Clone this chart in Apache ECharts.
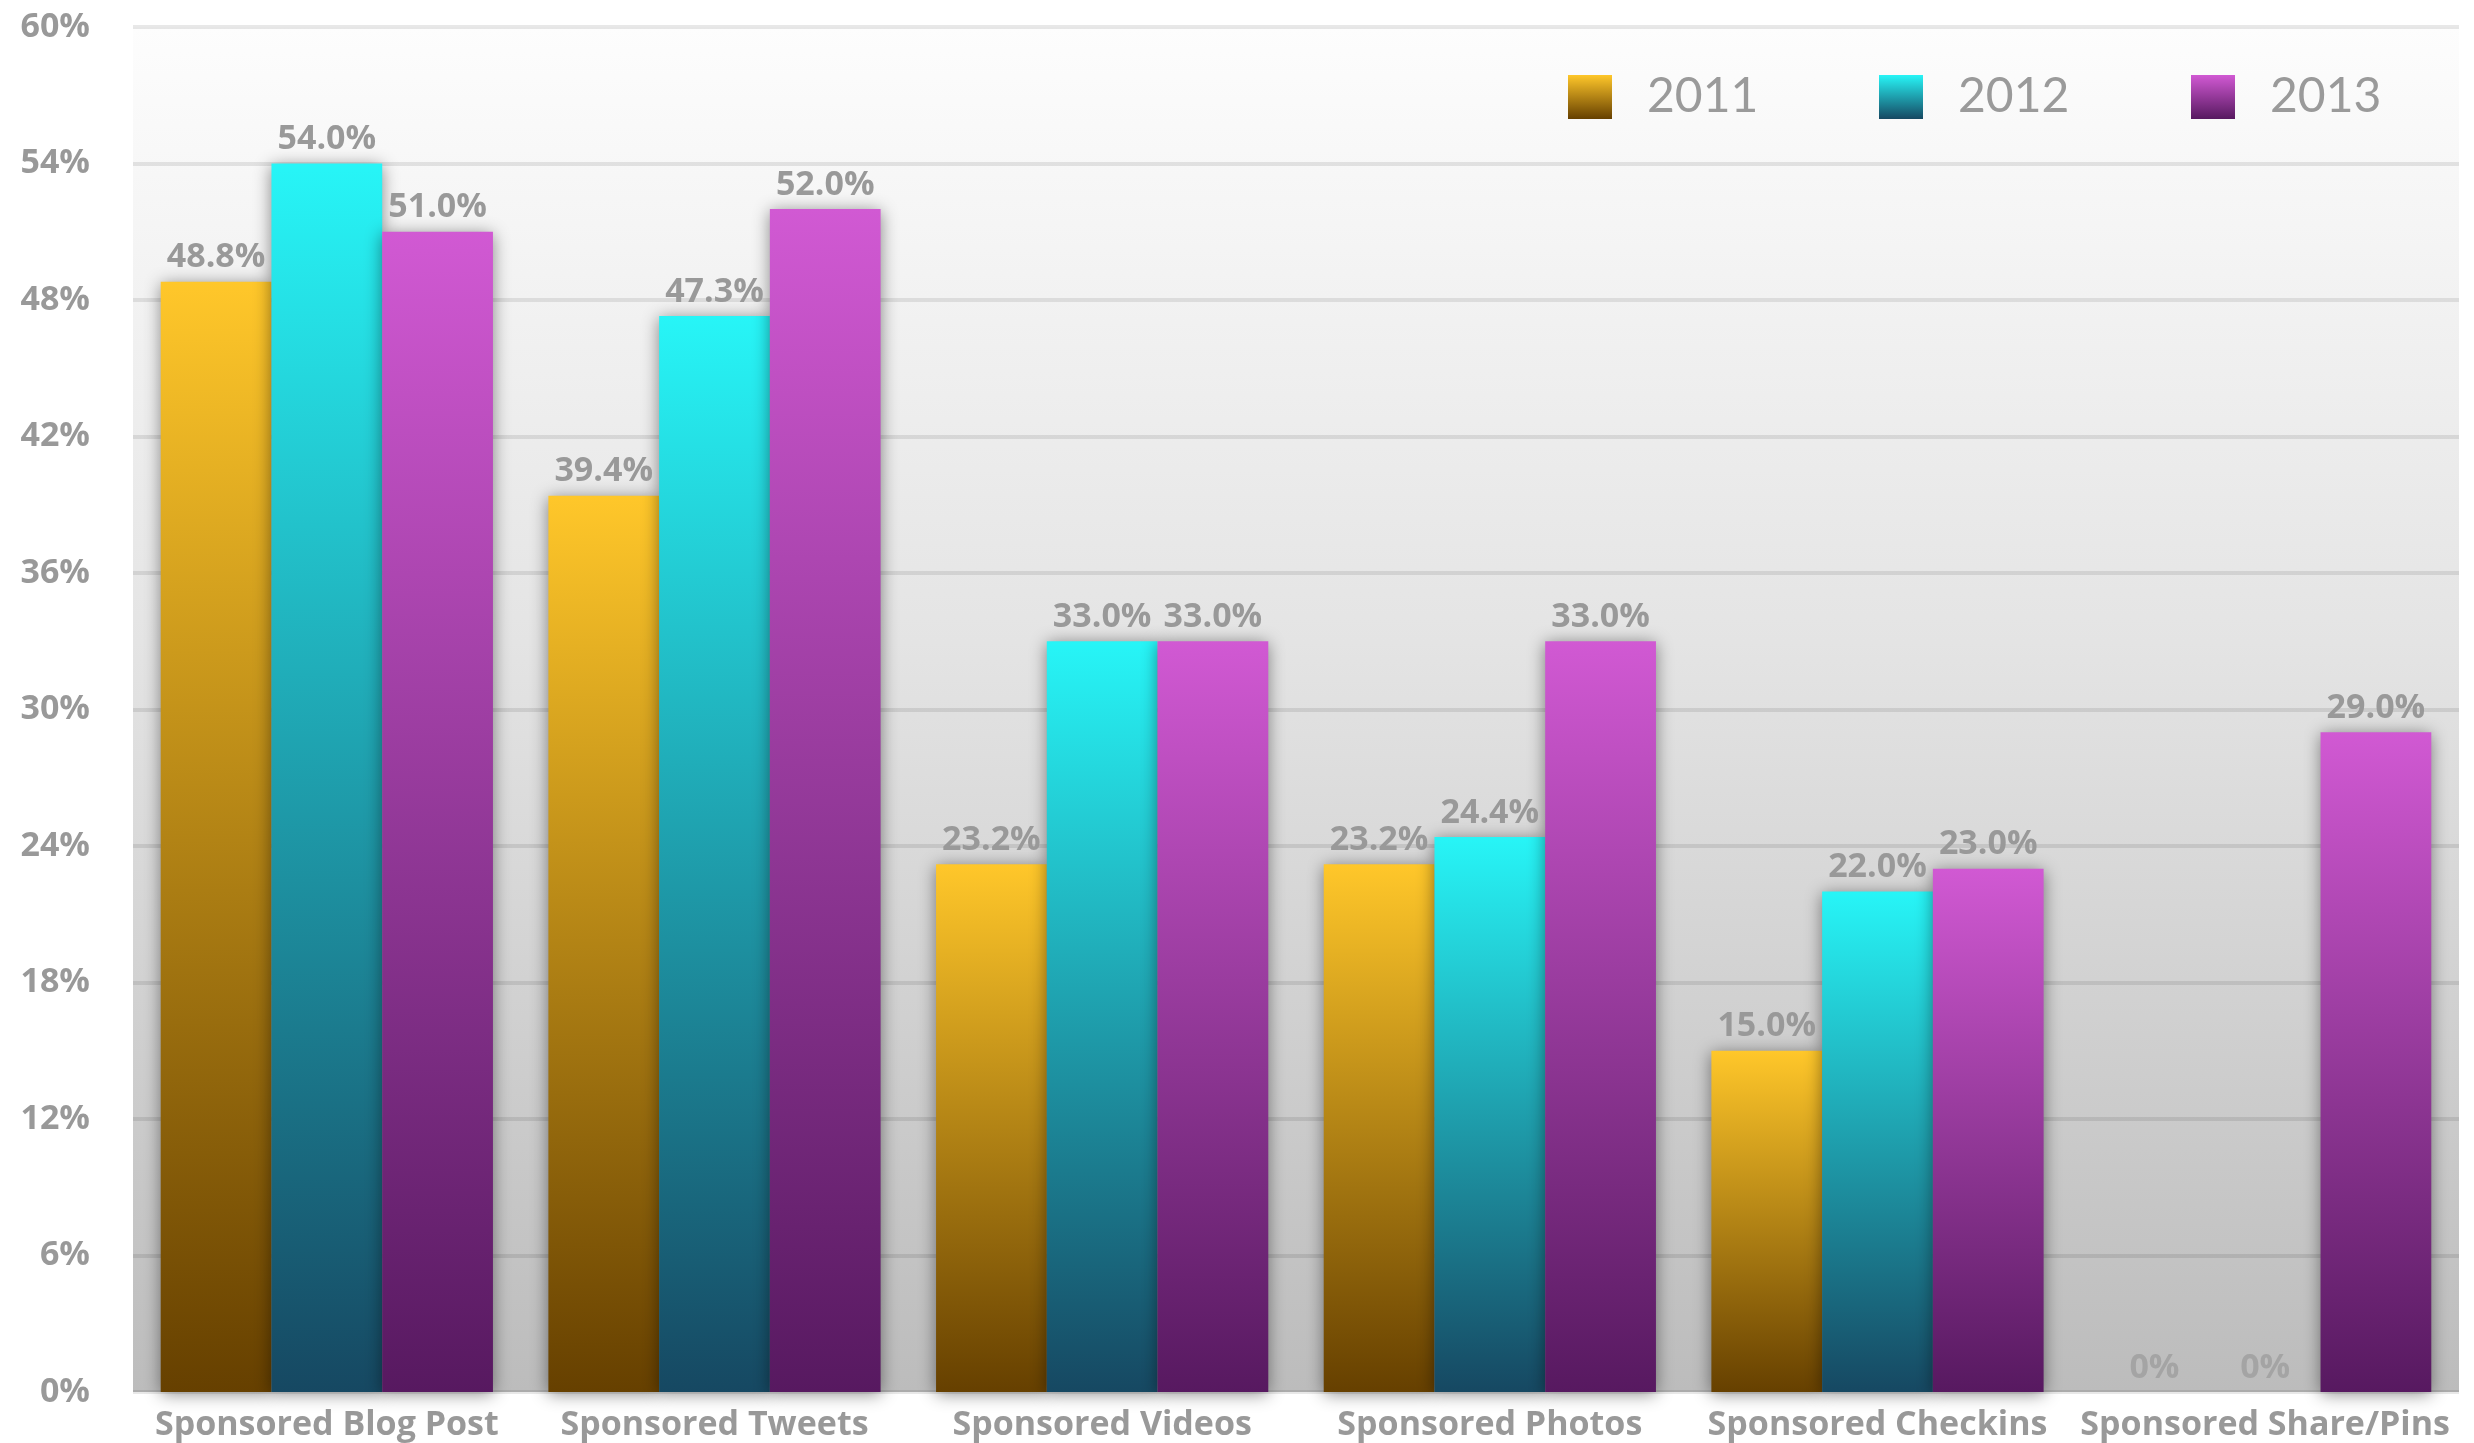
<!DOCTYPE html>
<html>
<head>
<meta charset="utf-8">
<script src="https://cdn.jsdelivr.net/npm/echarts@6/dist/echarts.min.js"></script>
<style>
html,body{margin:0;padding:0;background:#fff;}
#chart{width:2474px;height:1443px;}
</style>
</head>
<body>
<div id="chart"></div>
<script>
const categories = ['Sponsored Blog Post','Sponsored Tweets','Sponsored Videos','Sponsored Photos','Sponsored Checkins','Sponsored Share/Pins'];
const seriesNames = ['2011','2012','2013'];
const values2011 = [48.8, 39.4, 23.2, 23.2, 15.0, 0];
const values2012 = [54.0, 47.3, 33.0, 24.4, 22.0, 0];
const values2013 = [51.0, 52.0, 33.0, 33.0, 23.0, 29.0];
const yMin = 0, yMax = 60, yStep = 6;

const allValues = [values2011, values2012, values2013];
const gradients = [
  ['#ffc72a', '#664000'],
  ['#27f5f7', '#164862'],
  ['#d159d3', '#571960']
];
const legendLefts = [1568, 1879, 2191];
const boldFont = "'Open Sans', 'Noto Sans', sans-serif";

function grad(c) {
  return new echarts.graphic.LinearGradient(0, 0, 0, 1, [
    {offset: 0, color: c[0]}, {offset: 1, color: c[1]}
  ]);
}

const chart = echarts.init(document.getElementById('chart'), null, {renderer: 'canvas'});

const series = seriesNames.map((name, i) => ({
  name: name,
  type: 'bar',
  barGap: '0%',
  barCategoryGap: '14.3%',
  data: allValues[i].map(v => v === 0 ? {value: v, label: {color: '#a4a4a4'}} : v),
  itemStyle: {
    color: grad(gradients[i]),
    shadowBlur: 16,
    shadowColor: 'rgba(0,0,0,0.45)',
    shadowOffsetX: 0,
    shadowOffsetY: 2
  },
  label: {
    show: true,
    position: 'top',
    distance: 7,
    color: '#999999',
    fontFamily: boldFont,
    fontWeight: 'bold',
    fontSize: 34,
    formatter: p => p.value === 0 ? '0%' : p.value.toFixed(1) + '%'
  }
}));

const legends = seriesNames.map((name, i) => ({
  data: [name],
  left: legendLefts[i],
  top: 73,
  itemWidth: 44,
  itemHeight: 44,
  icon: 'rect',
  padding: 0,
  textStyle: {
    color: '#9a9a9a',
    fontFamily: "'Liberation Sans Narrow', 'Lato'",
    fontSize: 48,
    fontWeight: 'normal',
    padding: [0, 0, 0, 30]
  }
}));

chart.setOption({
  animation: false,
  backgroundColor: '#ffffff',
  legend: legends,
  grid: {
    left: 133,
    right: 15,
    top: 27,
    bottom: 51,
    show: true,
    borderWidth: 0,
    backgroundColor: new echarts.graphic.LinearGradient(0, 0, 0, 1, [
      {offset: 0, color: '#fdfdfd'},
      {offset: 0.45, color: '#e4e4e4'},
      {offset: 1, color: '#bcbcbc'}
    ])
  },
  xAxis: {
    type: 'category',
    data: categories,
    axisLine: {show: false},
    axisTick: {show: false},
    axisLabel: {
      interval: 0,
      color: '#999999',
      fontFamily: boldFont,
      fontWeight: 'bold',
      fontSize: 34,
      margin: 16
    }
  },
  yAxis: {
    type: 'value',
    min: yMin,
    max: yMax,
    interval: yStep,
    axisLine: {show: false},
    axisTick: {show: false},
    splitLine: {lineStyle: {color: 'rgba(0,0,0,0.09)', width: 4}},
    axisLabel: {
      color: '#999999',
      fontFamily: boldFont,
      fontWeight: 'bold',
      fontSize: 34,
      margin: 43,
      formatter: '{value}%'
    }
  },
  series: series
});
</script>
</body>
</html>
